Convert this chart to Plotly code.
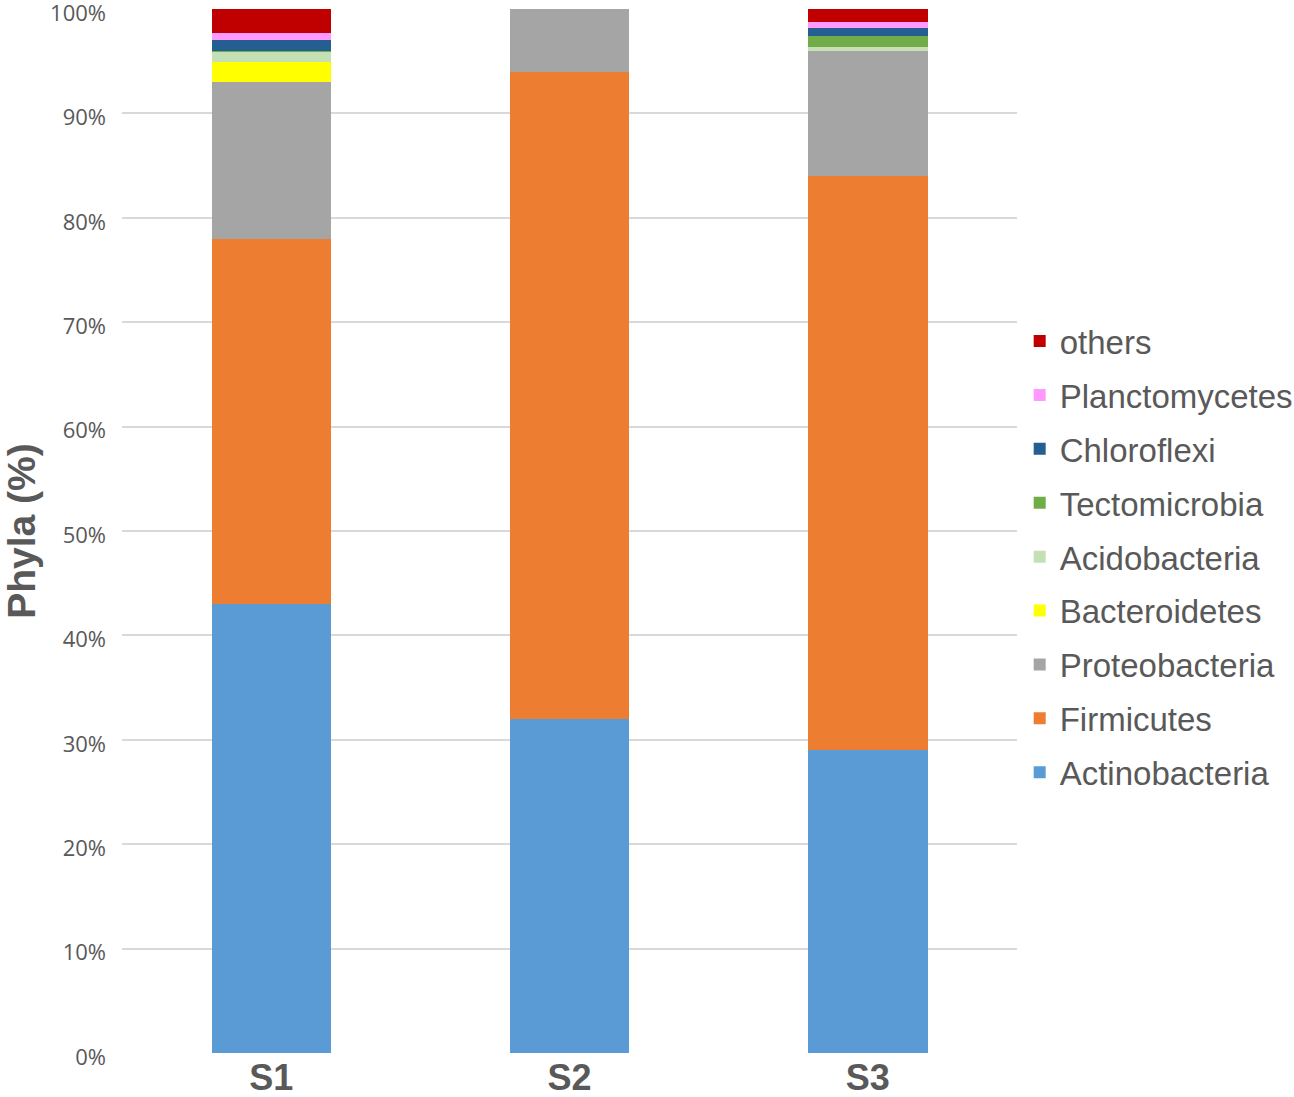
import plotly.graph_objects as go

samples = ["S1", "S2", "S3"]
phyla = ["Actinobacteria", "Firmicutes", "Proteobacteria", "Bacteroidetes",
         "Acidobacteria", "Tectomicrobia", "Chloroflexi", "Planctomycetes", "others"]
actinobacteria = [43.0, 32.0, 29.0]
firmicutes = [35.0, 62.0, 55.0]
proteobacteria = [15.0, 6.0, 12.0]
bacteroidetes = [1.9, 0.0, 0.0]
acidobacteria = [1.0, 0.0, 0.4]
tectomicrobia = [0.1, 0.0, 1.0]
chloroflexi = [1.0, 0.0, 0.8]
planctomycetes = [0.7, 0.0, 0.6]
others = [2.3, 0.0, 1.2]
values = [actinobacteria, firmicutes, proteobacteria, bacteroidetes,
          acidobacteria, tectomicrobia, chloroflexi, planctomycetes, others]
colors = ["#5B9BD5", "#ED7D31", "#A5A5A5", "#FFFF00", "#C5E0B4",
          "#70AD47", "#255E91", "#FF99FF", "#C00000"]
y_ticks = list(range(0, 101, 10))
y_tick_labels = [f"{v}%" for v in y_ticks]

fig = go.Figure()
for i, (name, vals, col) in enumerate(zip(phyla, values, colors)):
    fig.add_trace(go.Bar(x=samples, y=vals, name=name, marker_color=col,
                         marker_line_width=0, legendgroup=name,
                         legendrank=1000 - i))

font_family = "Arial, Liberation Sans, sans-serif"
tick_family = "Open Sans, Arial, sans-serif"
fig.update_layout(
    barmode="stack",
    bargap=0.6,
    width=1294, height=1097,
    margin=dict(l=122, r=277, t=9, b=44, autoexpand=False),
    paper_bgcolor="white", plot_bgcolor="white",
    font=dict(family=font_family, color="#595959"),
    legend=dict(
        traceorder="grouped",
        x=1.003, xanchor="left", y=0.475, yanchor="middle",
        font=dict(size=33, color="#595959", family=font_family),
        tracegroupgap=8,
        itemwidth=30,
    ),
    xaxis=dict(
        tickfont=dict(size=36, color="#595959", family=font_family, weight="bold"),
        showline=False, ticks="", showgrid=False, automargin=False,
    ),
    yaxis=dict(
        range=[0, 100],
        tickvals=y_ticks, ticktext=y_tick_labels,
        tickfont=dict(size=22, color="#595959", family=tick_family),
        showgrid=True, gridcolor="#D9D9D9", gridwidth=2,
        zeroline=False, showline=False, ticks="",
        ticklabelstandoff=15, ticklabelshift=4,
        ticklabeloverflow="allow", automargin=False,
        title=dict(text="Phyla (%)", standoff=31,
                   font=dict(size=39, color="#595959", family=font_family, weight="bold")),
    ),
)
fig.write_html("out.html", config={"displayModeBar": False},
               post_script="document.body.style.margin='0';document.body.style.padding='0';document.body.style.overflow='hidden';")
